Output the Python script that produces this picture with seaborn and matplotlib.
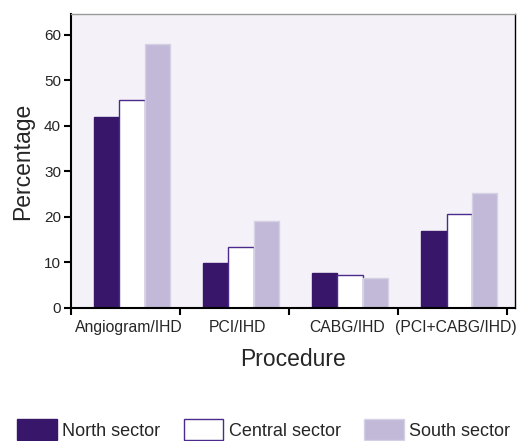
import pandas as pd
import matplotlib
matplotlib.use("Agg")
import matplotlib.pyplot as plt
import seaborn as sns

# values
procedures = ["Angiogram/IHD", "PCI/IHD", "CABG/IHD", "(PCI+CABG/IHD)"]
sectors = ["North sector", "Central sector", "South sector"]
north = [42.0, 9.8, 7.6, 16.9]
central = [45.6, 13.5, 7.3, 20.6]
south = [58.1, 19.1, 6.7, 25.2]

data = pd.DataFrame({
    "Procedure": procedures * 3,
    "Sector": [s for s in sectors for _ in procedures],
    "Percentage": north + central + south,
})

sns.set_style("white")
plt.rcParams["font.family"] = ["Liberation Sans", "DejaVu Sans"]

fills = ["#38176b", "#ffffff", "#c1b9d7"]
edges = ["#38176b", "#4b2a8c", "#d6d0e5"]

fig = plt.figure(figsize=(5.17, 4.41), dpi=100)
ax = fig.add_axes([0.137, 0.3016, 0.859, 0.6666])
ax.set_facecolor("#f4f2f8")

sns.barplot(data=data, x="Procedure", y="Percentage", hue="Sector",
            palette=fills, width=0.7, saturation=1, ax=ax, legend=True)

for cont, ec in zip(ax.containers, edges):
    for bar in cont:
        bar.set_edgecolor(ec)
        bar.set_linewidth(1.0)

ax.set_ylim(0, 64.6)
ax.set_xlim(-0.56, 3.51)
ax.set_yticks([0, 10, 20, 30, 40, 50, 60])

# ticks sit on group boundaries, labels between them
ax.set_xticks([-0.56, 0.44, 1.44, 2.44, 3.44])
ax.set_xticklabels([])
ax.set_xticks([i - 0.03 for i in range(4)], minor=True)
ax.set_xticklabels(procedures, minor=True)
ax.tick_params(axis="x", which="minor", length=0, labelsize=11.3, pad=9)
ax.tick_params(axis="x", which="major", length=5, width=1.5, color="black",
               bottom=True, direction="out")
ax.tick_params(axis="y", length=5, width=1.5, color="black", left=True,
               direction="out", labelsize=11, pad=2)

for side in ["left", "bottom"]:
    ax.spines[side].set_color("black")
    ax.spines[side].set_linewidth(1.5)
ax.spines["top"].set_color("#999999")
ax.spines["top"].set_linewidth(1.0)
ax.spines["right"].set_color("black")
ax.spines["right"].set_linewidth(1.0)

ax.set_xlabel("Procedure", fontsize=16.5, labelpad=9)
ax.set_ylabel("Percentage", fontsize=16.5, labelpad=7)

handles, labels = ax.get_legend_handles_labels()
ax.get_legend().remove()
for h, ec in zip(handles, edges):
    h.set_edgecolor(ec)
    h.set_linewidth(1.0)
fig.legend(handles, labels, loc="lower center", bbox_to_anchor=(0.51, -0.035),
           ncol=3, frameon=False, fontsize=13, handlelength=2.2,
           handleheight=1.4, handletextpad=0.3, columnspacing=1.3)

fig.savefig("out.png", dpi=100)
